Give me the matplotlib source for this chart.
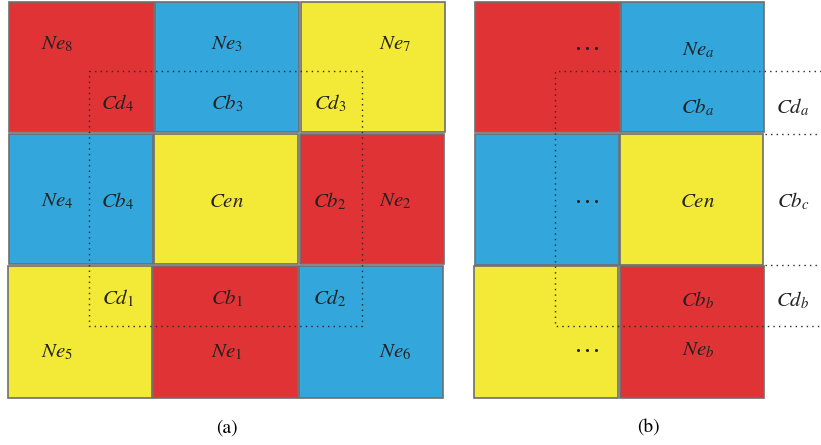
import matplotlib.pyplot as plt
from matplotlib.patches import Rectangle

plt.rcParams['mathtext.fontset'] = 'stix'

# colour of every cell, row by row
red, blue, yellow = '#E03335', '#33A6DC', '#F2EA36'
colors_a = [[red, blue, yellow],
            [blue, yellow, red],
            [yellow, red, blue]]
colors_b = [[red, blue],
            [blue, yellow],
            [yellow, red]]

# cell edges (pixels): vertical span of each row, horizontal span of each cell
rows_a = [(2, 132), (134, 264), (266, 398)]
cols_a = [[(9, 154), (155, 299), (301, 445)],
          [(9, 153), (154, 298), (300, 444)],
          [(8, 152), (153, 298), (299, 443)]]
rows_b = [(2, 132), (134, 265), (266, 398)]
cols_b = [[(475, 620), (621, 764)],
          [(475, 619), (620, 763)],
          [(474, 618), (620, 764)]]

# labels: (text, x, y)
labels_a = [(r'$Ne_8$', 57, 44), (r'$Ne_3$', 227, 44), (r'$Ne_7$', 395, 44),
            (r'$Cd_4$', 118, 103), (r'$Cb_3$', 227, 103), (r'$Cd_3$', 330, 103),
            (r'$Ne_4$', 57, 201), (r'$Cb_4$', 118, 201), (r'$Cen$', 227, 201),
            (r'$Cb_2$', 330, 201), (r'$Ne_2$', 395, 201),
            (r'$Cd_1$', 118, 298), (r'$Cb_1$', 227, 298), (r'$Cd_2$', 330, 298),
            (r'$Ne_5$', 57, 352), (r'$Ne_1$', 227, 352), (r'$Ne_6$', 395, 352)]
labels_b = [(r'$Ne_a$', 698, 50),
            (r'$Cb_a$', 698, 107), (r'$Cd_a$', 793, 107),
            (r'$Cen$', 698, 201), (r'$Cb_c$', 793, 201),
            (r'$Cb_b$', 698, 300), (r'$Cd_b$', 793, 300),
            (r'$Ne_b$', 698, 350)]
ellipsis_b = [(587, 48), (587, 201), (587, 350)]

# dotted guide lines: (xs, ys)
dots_a = [([89, 362, 362, 89, 89], [71, 71, 326, 326, 71])]
dots_b = [([821, 555, 555, 821], [71, 71, 326, 326]),
          ([765, 821], [134, 134]),
          ([765, 821], [265, 265])]

fig = plt.figure(figsize=(8.21, 4.45), dpi=100)
ax = fig.add_axes([0, 0, 1, 1])
ax.set_xlim(0, 821)
ax.set_ylim(445, 0)
ax.axis('off')


def draw_grid(rows, cols, colors):
    for r, (y0, y1) in enumerate(rows):
        for c, (x0, x1) in enumerate(cols[r]):
            ax.add_patch(Rectangle((x0, y0), x1 - x0, y1 - y0,
                                   facecolor=colors[r][c], edgecolor='#6E6E6E',
                                   linewidth=1.2, zorder=1))


draw_grid(rows_a, cols_a, colors_a)
draw_grid(rows_b, cols_b, colors_b)

for xs, ys in dots_a + dots_b:
    ax.plot(xs, ys, color='#2A2A2A', linestyle=(0, (1, 3)), linewidth=1.0, zorder=2)

for text, x, y in labels_a + labels_b:
    ax.text(x, y, text, fontsize=15, color='#222222', ha='center', va='center', zorder=3)

# spaced-out ellipsis, three small dots
for x, y in ellipsis_b:
    ax.plot([x - 9, x, x + 9], [y, y, y], linestyle='none', marker='o',
            markersize=2.2, markeredgewidth=0, color='#222222', zorder=3)

ax.text(227, 428, '(a)', fontsize=14, family='STIXGeneral', ha='center', va='center')
ax.text(648, 428, '(b)', fontsize=14, family='STIXGeneral', ha='center', va='center')

fig.savefig('out.png', dpi=100)
